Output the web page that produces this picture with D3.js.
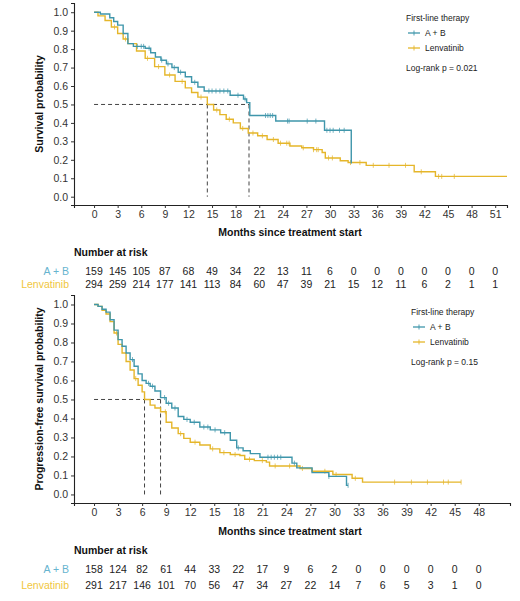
<!DOCTYPE html>
<html><head><meta charset="utf-8">
<script src="https://cdn.jsdelivr.net/npm/d3@7"></script>
<style>body{margin:0;background:#fff;} svg{display:block;font-family:"Liberation Sans",Arial,sans-serif;}</style>
</head><body>
<svg id="c" width="520" height="601"></svg>
<script>
// ---------- DATA ----------
const groups = ["A + B", "Lenvatinib"];
const legendTitle = "First-line therapy";

// Overall survival (top panel)
const osTimeAB = [0, 0.8, 2.0, 2.5, 3.0, 3.7, 4.3, 5.0, 6.5, 7.2, 7.8, 8.5, 9.2, 9.9, 10.7, 11.6, 12.4, 13.2, 14.0, 17.3, 19.0, 19.4, 19.8, 23.1, 29.3, 32.7];
const osSurvAB = [1.0, 0.99, 0.97, 0.95, 0.93, 0.885, 0.83, 0.815, 0.805, 0.78, 0.757, 0.74, 0.72, 0.70, 0.675, 0.65, 0.62, 0.595, 0.573, 0.55, 0.53, 0.51, 0.44, 0.41, 0.36, 0.18];
const osEndAB = 32.7;
const osCensAB = [5.5, 6.0, 6.3, 7.0, 8.6, 9.4, 10.2, 11.0, 12.8, 14.6, 15.0, 15.5, 16.0, 16.5, 17.0, 18.3, 19.2, 21.8, 22.1, 22.4, 22.7, 24.6, 24.8, 27.1, 28.2, 29.6, 30.0, 30.4, 31.2, 31.8];
const osTimeLen = [0, 0.5, 1.4, 2.2, 3.0, 3.7, 4.3, 5.4, 6.5, 7.7, 9.0, 10.3, 11.6, 12.4, 13.2, 14.4, 15.2, 16.0, 16.8, 17.7, 18.6, 19.6, 20.8, 22.0, 23.4, 24.9, 26.4, 27.9, 29.0, 29.4, 31.3, 32.3, 34.6, 40.7, 43.4];
const osSurvLen = [1.0, 0.98, 0.955, 0.92, 0.885, 0.855, 0.83, 0.79, 0.75, 0.705, 0.66, 0.625, 0.59, 0.565, 0.54, 0.5, 0.47, 0.445, 0.42, 0.40, 0.37, 0.345, 0.33, 0.31, 0.29, 0.275, 0.265, 0.255, 0.24, 0.21, 0.195, 0.185, 0.17, 0.135, 0.11];
const osEndLen = 52.5;
const osCensLen = [2.6, 4.0, 6.8, 8.2, 9.6, 11.2, 13.6, 15.6, 17.2, 18.9, 20.2, 21.4, 22.8, 23.7, 24.5, 24.8, 26.6, 27.9, 28.3, 28.5, 29.8, 30.3, 32.6, 33.8, 35.5, 37.5, 39.6, 41.6, 43.8, 44.2, 45.8];
const osMedians = [14.4, 19.7];
const osPText = "Log-rank  p = 0.021";
const osTicks = [0, 3, 6, 9, 12, 15, 18, 21, 24, 27, 30, 33, 36, 39, 42, 45, 48, 51];
const osRiskAB = [159, 145, 105, 87, 68, 49, 34, 22, 13, 11, 6, 0, 0, 0, 0, 0, 0, 0];
const osRiskLen = [294, 259, 214, 177, 141, 113, 84, 60, 47, 39, 21, 15, 12, 11, 6, 2, 1, 1];

// Progression-free survival (bottom panel)
const pfsTimeAB = [0, 0.5, 1.0, 1.5, 2.0, 2.5, 3.0, 3.5, 4.0, 4.5, 5.0, 5.5, 6.0, 6.5, 7.0, 7.6, 8.3, 9.0, 9.7, 10.5, 11.2, 12.0, 13.2, 14.5, 15.8, 17.0, 17.8, 18.6, 19.5, 20.7, 24.7, 25.3, 27.2, 29.3, 31.5];
const pfsSurvAB = [1.0, 0.99, 0.975, 0.96, 0.92, 0.865, 0.815, 0.78, 0.745, 0.71, 0.675, 0.635, 0.60, 0.585, 0.57, 0.545, 0.51, 0.48, 0.455, 0.41, 0.395, 0.38, 0.355, 0.34, 0.325, 0.285, 0.245, 0.23, 0.215, 0.196, 0.165, 0.14, 0.115, 0.095, 0.048];
const pfsEndAB = 31.7;
const pfsCensAB = [4.8, 6.8, 7.3, 8.8, 9.3, 10.1, 11.6, 12.5, 13.7, 14.2, 15.1, 16.3, 18.0, 21.7, 22.1, 22.5, 22.9, 23.3, 25.0, 29.3, 31.7];
const pfsTimeLen = [0, 0.5, 1.0, 1.5, 2.0, 2.5, 3.0, 3.5, 4.0, 4.5, 5.0, 5.5, 6.0, 6.3, 7.0, 7.6, 8.3, 9.0, 9.7, 10.5, 11.2, 12.0, 13.2, 14.5, 15.7, 17.0, 18.2, 18.8, 20.0, 21.5, 21.9, 25.7, 27.2, 29.8, 32.2, 33.5];
const pfsSurvLen = [1.0, 0.99, 0.97, 0.95, 0.91, 0.85, 0.79, 0.745, 0.70, 0.655, 0.61, 0.575, 0.54, 0.50, 0.47, 0.455, 0.435, 0.38, 0.35, 0.32, 0.295, 0.275, 0.26, 0.24, 0.22, 0.21, 0.205, 0.185, 0.178, 0.17, 0.15, 0.137, 0.122, 0.105, 0.085, 0.065];
const pfsEndLen = 45.8;
const pfsCensLen = [2.8, 5.2, 8.9, 10.8, 12.6, 14.8, 16.2, 17.6, 19.4, 21.0, 22.6, 24.4, 26.0, 28.8, 30.2, 32.6, 37.5, 39.6, 41.6, 43.6, 44.2, 45.8];
const pfsMedians = [6.3, 8.3];
const pfsPText = "Log-rank  p = 0.15";
const pfsTicks = [0, 3, 6, 9, 12, 15, 18, 21, 24, 27, 30, 33, 36, 39, 42, 45, 48];
const pfsRiskAB = [158, 124, 82, 61, 44, 33, 22, 17, 9, 6, 2, 0, 0, 0, 0, 0, 0];
const pfsRiskLen = [291, 217, 146, 101, 70, 56, 47, 34, 27, 22, 14, 7, 6, 5, 3, 1, 0];

const yTicks = [0, 0.1, 0.2, 0.3, 0.4, 0.5, 0.6, 0.7, 0.8, 0.9, 1.0];

// ---------- STYLE ----------
const colAB = "#3f96ab", colLen = "#e5b62a";
const riskColAB = "#67b4cf", riskColLen = "#f0c640";
const svg = d3.select("#c");

function panel(cfg) {
  const x = d3.scaleLinear().domain(cfg.xDom).range([74, cfg.xRight]);
  const y = d3.scaleLinear().domain([-0.045, 1.05]).range([cfg.yBottom, cfg.yTop]);
  const g = svg.append("g");

  // axes
  const ya = g.append("g").attr("transform", `translate(74,0)`)
    .call(d3.axisLeft(y).tickValues(yTicks).tickFormat(d3.format(".1f")).tickSize(3).tickPadding(3));
  const xa = g.append("g").attr("transform", `translate(0,${cfg.yBottom})`)
    .call(d3.axisBottom(x).tickValues(cfg.ticks).tickSize(3).tickPadding(3));
  [ya, xa].forEach(a => {
    a.select(".domain").attr("stroke", "#222").attr("stroke-width", 1.1);
    a.selectAll(".tick line").attr("stroke", "#333");
    a.selectAll("text").attr("fill", "#333").style("font-size", "10.5px").style("font-family", "'Liberation Sans',Arial,sans-serif");
  });

  // median lines
  const dash = g.append("g").attr("stroke", "#444").attr("stroke-width", 1).attr("stroke-dasharray", "4,3").attr("fill", "none");
  dash.append("line").attr("x1", x(0)).attr("x2", x(d3.max(cfg.medians))).attr("y1", y(0.5)).attr("y2", y(0.5));
  cfg.medians.forEach(m => dash.append("line").attr("x1", x(m)).attr("x2", x(m)).attr("y1", y(0.5)).attr("y2", y(0)));

  // curves
  const line = d3.line().x(d => x(d[0])).y(d => y(d[1])).curve(d3.curveStepAfter);
  function km(times, surv, end, cens, col) {
    const pts = times.map((t, i) => [t, surv[i]]);
    pts.push([end, surv[surv.length - 1]]);
    g.append("path").datum(pts).attr("d", line).attr("fill", "none").attr("stroke", col).attr("stroke-width", 1.4);
    const sAt = t => { let s = surv[0]; times.forEach((tt, i) => { if (tt <= t) s = surv[i]; }); return s; };
    g.append("g").selectAll("line").data(cens).join("line")
      .attr("x1", d => x(d)).attr("x2", d => x(d))
      .attr("y1", d => y(sAt(d)) - 2.5).attr("y2", d => y(sAt(d)) + 2.5)
      .attr("stroke", col).attr("stroke-width", 0.9).attr("opacity", 0.8);
  }
  km(cfg.tLen, cfg.sLen, cfg.endLen, cfg.cLen, colLen);
  km(cfg.tAB, cfg.sAB, cfg.endAB, cfg.cAB, colAB);

  // y title
  g.append("text").attr("transform", `translate(${cfg.yTitleX},${(cfg.yTop + cfg.yBottom) / 2}) rotate(-90)`)
    .attr("text-anchor", "middle").attr("dominant-baseline", "central")
    .style("font-size", "10.5px").style("font-weight", "bold").attr("fill", "#111").text(cfg.yTitle);
  // x title
  g.append("text").attr("x", 290).attr("y", cfg.xTitleY).attr("text-anchor", "middle").attr("dominant-baseline", "central")
    .style("font-size", "10.5px").style("font-weight", "bold").attr("fill", "#111").text("Months since treatment start");

  // legend
  const L = cfg.legend;
  g.append("text").attr("x", L.x).attr("y", L.y).attr("dominant-baseline", "central")
    .style("font-size", "8.5px").attr("fill", "#222").text(legendTitle);
  [[groups[0], colAB], [groups[1], colLen]].forEach((d, i) => {
    const yy = L.y + 15 * (i + 1);
    g.append("line").attr("x1", L.x + 2).attr("x2", L.x + 14).attr("y1", yy).attr("y2", yy).attr("stroke", d[1]).attr("stroke-width", 1.3);
    g.append("line").attr("x1", L.x + 8).attr("x2", L.x + 8).attr("y1", yy - 2.5).attr("y2", yy + 2.5).attr("stroke", d[1]).attr("stroke-width", 0.9);
    g.append("text").attr("x", L.x + 19).attr("y", yy).attr("dominant-baseline", "central")
      .style("font-size", "8.5px").attr("fill", "#222").text(d[0]);
  });
  g.append("text").attr("x", L.x).attr("y", L.y + 50).attr("dominant-baseline", "central")
    .style("font-size", "8.5px").attr("fill", "#222").text(cfg.pText);

  // risk table
  g.append("text").attr("x", 74).attr("y", cfg.riskY).attr("dominant-baseline", "central")
    .style("font-size", "10.5px").style("font-weight", "bold").attr("fill", "#111").text("Number at risk");
  [[groups[0], cfg.rAB, riskColAB, cfg.riskRow1], [groups[1], cfg.rLen, riskColLen, cfg.riskRow2]].forEach(r => {
    g.append("text").attr("x", 69).attr("y", r[3]).attr("text-anchor", "end").attr("dominant-baseline", "central")
      .style("font-size", "10.5px").attr("fill", r[2]).text(r[0]);
    g.append("g").selectAll("text").data(r[1]).join("text")
      .attr("x", (d, i) => x(cfg.ticks[i])).attr("y", r[3]).attr("text-anchor", "middle").attr("dominant-baseline", "central")
      .style("font-size", "10.5px").attr("fill", "#222").text(d => d);
  });
}

panel({
  xDom: [-2.55, 52.5], xRight: 507, yTop: 3, yBottom: 205,
  ticks: osTicks, medians: osMedians,
  tAB: osTimeAB, sAB: osSurvAB, endAB: osEndAB, cAB: osCensAB,
  tLen: osTimeLen, sLen: osSurvLen, endLen: osEndLen, cLen: osCensLen,
  yTitle: "Survival probability", yTitleX: 39, xTitleY: 232,
  legend: { x: 406, y: 18 }, pText: osPText,
  riskY: 252, riskRow1: 271, riskRow2: 284, rAB: osRiskAB, rLen: osRiskLen
});
panel({
  xDom: [-2.5, 51.9], xRight: 510, yTop: 295, yBottom: 503,
  ticks: pfsTicks, medians: pfsMedians,
  tAB: pfsTimeAB, sAB: pfsSurvAB, endAB: pfsEndAB, cAB: pfsCensAB,
  tLen: pfsTimeLen, sLen: pfsSurvLen, endLen: pfsEndLen, cLen: pfsCensLen,
  yTitle: "Progression-free survival probability", yTitleX: 39, xTitleY: 531,
  legend: { x: 411, y: 312 }, pText: pfsPText,
  riskY: 550, riskRow1: 569, riskRow2: 585, rAB: pfsRiskAB, rLen: pfsRiskLen
});
</script>
</body></html>
